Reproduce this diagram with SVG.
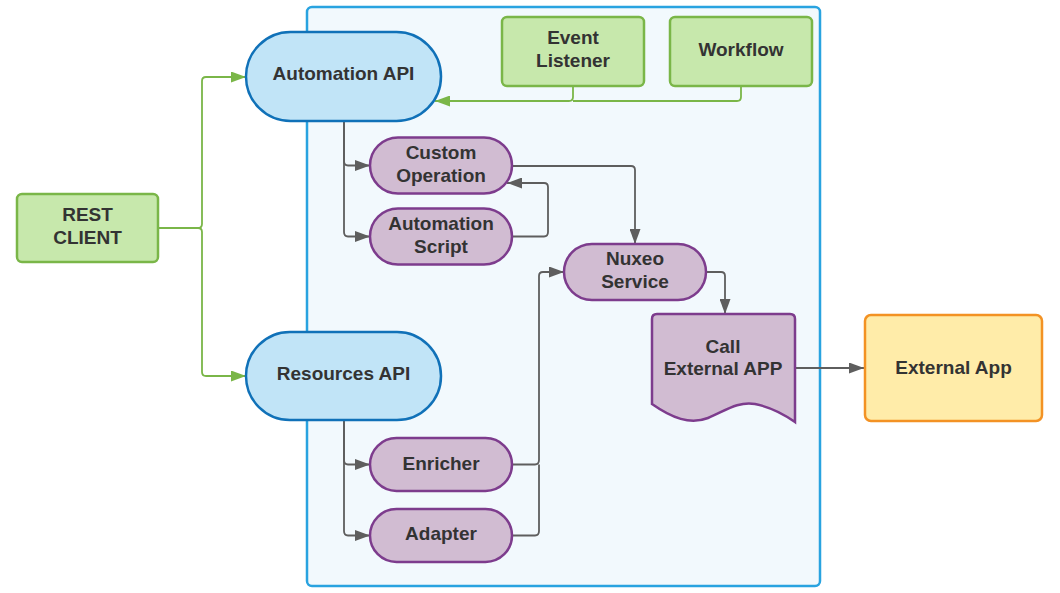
<svg xmlns="http://www.w3.org/2000/svg" width="1060" height="593" viewBox="0 0 1060 593">
<style>
.t{font-family:"Liberation Sans",Arial,sans-serif;font-weight:bold;font-size:19px;fill:#333333;text-anchor:middle}
.green{fill:#c7e8ac;stroke:#7ab648;stroke-width:2.5}
.blue{fill:#c1e4f7;stroke:#1071b8;stroke-width:2.5}
.purple{fill:#d1bcd2;stroke:#7d3c8d;stroke-width:2.5}
.yellow{fill:#ffeca9;stroke:#f39224;stroke-width:2.5}
.c{fill:none;stroke:#5e5e5e;stroke-width:1.8}
.cg{fill:none;stroke:#7ab648;stroke-width:1.8}
</style>
<defs>
<marker id="ag" markerUnits="userSpaceOnUse" markerWidth="15" markerHeight="11" refX="15" refY="5.5" orient="auto"><path d="M0,0 L15,5.5 L0,11 z" fill="#5e5e5e"/></marker>
<marker id="agr" markerUnits="userSpaceOnUse" markerWidth="15" markerHeight="11" refX="15" refY="5.5" orient="auto"><path d="M0,0 L15,5.5 L0,11 z" fill="#7ab648"/></marker>
</defs>
<rect x="0" y="0" width="1060" height="593" fill="#ffffff"/>
<g id="container"><rect x="307" y="7" width="513" height="579" rx="5" fill="#f2f9fd" stroke="#29a3e0" stroke-width="2.5"/></g>
<g id="connectors">
<path class="cg" d="M158,228 H198 Q202,228 202,224 V81 Q202,77 206,77 H246" marker-end="url(#agr)"/>
<path class="cg" d="M198,228 Q202,228 202,232 V372 Q202,376 206,376 H246" marker-end="url(#agr)"/>
<path class="cg" d="M573,86 V97 Q573,101 569,101 H435" marker-end="url(#agr)"/>
<path class="cg" d="M741,86 V97 Q741,101 737,101 H573"/>
<path class="c" d="M344,121 V161 Q344,165.5 348,165.5 H370" marker-end="url(#ag)"/>
<path class="c" d="M344,121 V232 Q344,236.5 348,236.5 H370" marker-end="url(#ag)"/>
<path class="c" d="M512,166 H631 Q635,166 635,170 V244" marker-end="url(#ag)"/>
<path class="c" d="M512,236.5 H544 Q548,236.5 548,232 V187 Q548,183 544,183 H507" marker-end="url(#ag)"/>
<path class="c" d="M344,420 V460 Q344,464.5 348,464.5 H370" marker-end="url(#ag)"/>
<path class="c" d="M344,420 V531 Q344,535.5 348,535.5 H370" marker-end="url(#ag)"/>
<path class="c" d="M512,464.5 H535 Q539,464.5 539,460 V276 Q539,272 543,272 H564" marker-end="url(#ag)"/>
<path class="c" d="M512,535.5 H535 Q539,535.5 539,531 V464.5"/>
<path class="c" d="M706,272 H721 Q725,272 725,276 V314" marker-end="url(#ag)"/>
<path class="c" d="M795,368 H864" marker-end="url(#ag)"/>
</g>
<g id="rest-client"><rect class="green" x="17" y="194" width="141" height="68" rx="5"/><text class="t" x="87.5" y="221">REST</text><text class="t" x="87.5" y="244">CLIENT</text></g>
<g id="automation-api"><rect class="blue" x="246" y="32" width="195" height="89" rx="44.5"/><text class="t" x="343.5" y="80">Automation API</text></g>
<g id="event-listener"><rect class="green" x="502" y="17" width="142" height="69" rx="5"/><text class="t" x="573" y="44">Event</text><text class="t" x="573" y="67">Listener</text></g>
<g id="workflow"><rect class="green" x="670" y="17" width="142" height="69" rx="5"/><text class="t" x="741" y="56">Workflow</text></g>
<g id="custom-operation"><rect class="purple" x="370" y="137.5" width="142" height="56" rx="28"/><text class="t" x="441" y="159">Custom</text><text class="t" x="441" y="182">Operation</text></g>
<g id="automation-script"><rect class="purple" x="370" y="208.5" width="142" height="56" rx="28"/><text class="t" x="441" y="230">Automation</text><text class="t" x="441" y="253">Script</text></g>
<g id="nuxeo-service"><rect class="purple" x="564" y="244" width="142" height="56" rx="28"/><text class="t" x="635" y="265">Nuxeo</text><text class="t" x="635" y="288">Service</text></g>
<g id="call-external-app"><path class="purple" d="M657,314 H790 Q795,314 795,319 V422 C785,415 770,407 755,404 C738,401 725,411 708,418 C690,425 672,418 652,404 V319 Q652,314 657,314 Z"/><text class="t" x="723" y="353">Call</text><text class="t" x="723" y="375">External APP</text></g>
<g id="external-app"><rect class="yellow" x="865" y="315" width="177" height="106" rx="6"/><text class="t" x="953.5" y="374">External App</text></g>
<g id="resources-api"><rect class="blue" x="246" y="332" width="195" height="88" rx="44"/><text class="t" x="343.5" y="380">Resources API</text></g>
<g id="enricher"><rect class="purple" x="370" y="438" width="142" height="53" rx="26.5"/><text class="t" x="441" y="470">Enricher</text></g>
<g id="adapter"><rect class="purple" x="370" y="509" width="142" height="53" rx="26.5"/><text class="t" x="441" y="540">Adapter</text></g>
</svg>
